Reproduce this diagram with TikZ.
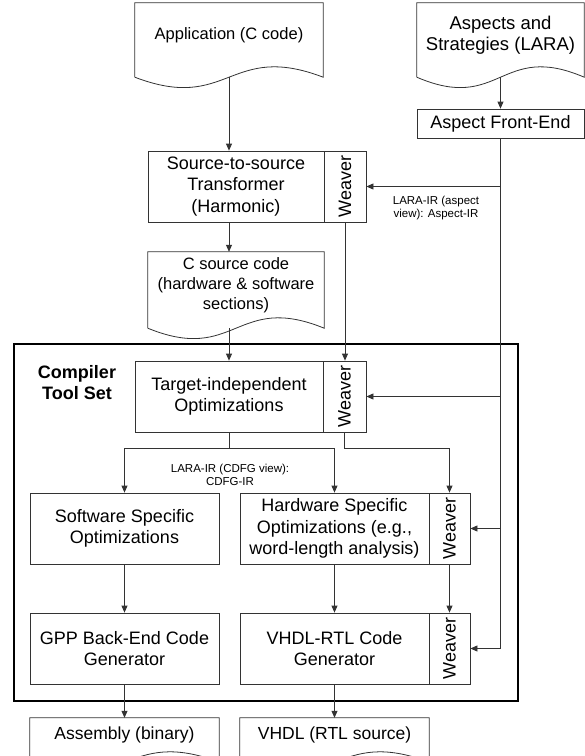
\documentclass[tikz,border=0pt]{standalone}
\usepackage{fontspec}
\setmainfont{Liberation Sans}
\usetikzlibrary{calc,arrows.meta}

% wavy bottom of a document node
\newcommand{\docoutline}[1]{%
  \draw[doc-line] ($(#1.south west)+(0,10)$) -- (#1.north west) -- (#1.north east) -- ($(#1.south east)+(0,10)$)
    .. controls ($(#1.south)+(0,-26)$) and ($(#1.south)+(0,46)$) .. ($(#1.south west)+(0,10)$);
  \coordinate (#1-wave) at ($(#1.south)+(0,10)$);}

\begin{document}
\begin{tikzpicture}[x=1pt, y=-1pt, >={Triangle[length=7pt,width=6pt]}]
        \tikzstyle{doc-file}=[inner sep=0pt, minimum width=188pt, minimum height=64pt, align=center, font=\fontsize{16.5}{20}\selectfont]
        \tikzstyle{doc-line}=[draw=black!80, line width=0.8pt]
        \tikzstyle{tool-box}=[draw=black!80, line width=0.8pt, inner sep=2pt, minimum width=189pt, minimum height=71pt, align=center, font=\fontsize{18}{21.5}\selectfont]
        \tikzstyle{weaver-box}=[tool-box, minimum width=42pt]
        \tikzstyle{tool-frame}=[draw=black, line width=1.6pt, minimum width=504pt, minimum height=357pt]
        \tikzstyle{set-label}=[align=center, font=\fontsize{18}{21}\selectfont\bfseries]
        \tikzstyle{ir-label}=[align=center, inner sep=0pt, font=\fontsize{11.5}{12.8}\selectfont]
        \tikzstyle{flow}=[->, draw=black!80, line width=0.8pt]

        \clip (0,0) rectangle (585,756);

        % inputs
        \node[doc-file] (app) at (229,35) {Application (C code)};
        \docoutline{app}
        \node[doc-file, minimum width=167pt, font=\fontsize{18.5}{21.5}\selectfont] (aspects) at (500.5,35) {Aspects and\\Strategies (LARA)};
        \docoutline{aspects}
        \node[tool-box, minimum width=167pt, minimum height=29pt] (afe) at (500.5,123.5) {Aspect Front-End};

        % source-to-source stage
        \node[tool-box, minimum width=176pt] (s2s) at (236,186.5) {Source-to-source\\Transformer\\(Harmonic)};
        \node[weaver-box] (s2s-weaver) at (345,186.5) {\rotatebox{90}{Weaver}};
        \node[doc-file, minimum width=176pt, minimum height=66pt] (csrc) at (236,285) {C source code\\(hardware \& software\\sections)};
        \docoutline{csrc}

        % compiler tool set
        \node[tool-frame] (tool-set) at (266,522.5) {};
        \node[set-label] (set-label) at (77,383) {Compiler\\Tool Set};
        \node[tool-box, minimum width=188pt] (ti) at (229,396.5) {Target-independent\\Optimizations};
        \node[weaver-box, minimum width=43pt] (ti-weaver) at (344.5,396.5) {\rotatebox{90}{Weaver}};
        \node[tool-box] (sw) at (124.5,528.5) {Software Specific\\Optimizations};
        \node[tool-box] (hw) at (334.5,528.5) {Hardware Specific\\Optimizations (e.g.,\\word-length analysis)};
        \node[weaver-box, minimum width=41pt] (hw-weaver) at (449.5,528.5) {\rotatebox{90}{Weaver}};
        \node[tool-box] (gpp) at (124.5,648.5) {GPP Back-End Code\\Generator};
        \node[tool-box] (rtl) at (334.5,648.5) {VHDL-RTL Code\\Generator};
        \node[weaver-box, minimum width=41pt] (rtl-weaver) at (449.5,648.5) {\rotatebox{90}{Weaver}};

        % outputs
        \node[doc-file, minimum width=189pt, minimum height=34pt, font=\fontsize{17.5}{21}\selectfont] (asm) at (124.5,735) {Assembly (binary)};
        \docoutline{asm}
        \node[doc-file, minimum width=189pt, minimum height=34pt, font=\fontsize{17.5}{21}\selectfont] (vhdl) at (334.5,735) {VHDL (RTL source)};
        \docoutline{vhdl}

        \node[ir-label] (aspect-ir) at (436,208) {LARA-IR (aspect\\view): Aspect-IR};
        \node[ir-label] (cdfg-ir) at (230,474.5) {LARA-IR (CDFG view):\\CDFG-IR};

        \coordinate (spine) at (229,0);
        \draw[flow] (app-wave) -- (app-wave |- s2s.north);
        \draw[flow] (aspects-wave) -- (afe.north);
        \draw[flow] (spine |- s2s.south) -- (spine |- csrc.north);
        \draw[flow] (spine |- csrc-wave) -- (ti.north);
        \draw[flow] (s2s-weaver.south) -- (s2s-weaver.south |- ti-weaver.north);

        \draw[flow] (afe.south) |- (rtl-weaver.east);
        \draw[flow] (afe.south |- s2s-weaver.east) -- (s2s-weaver.east);
        \draw[flow] (afe.south |- ti-weaver.east) -- (ti-weaver.east);
        \draw[flow] (afe.south |- hw-weaver.east) -- (hw-weaver.east);

        \coordinate (split) at ($(ti.south)+(0,16)$);
        \draw[flow] (ti.south) -- (split) -| (sw.north);
        \draw[flow] (split) -| (hw.north);
        \draw[flow] (ti-weaver.south) -- ++(0,16) -| (hw-weaver.north);

        \draw[flow] (sw.south) -- (gpp.north);
        \draw[flow] (hw.south) -- (rtl.north);
        \draw[flow] (hw-weaver.south) -- (rtl-weaver.north);
        \draw[flow] (gpp.south) -- (asm.north);
        \draw[flow] (rtl.south) -- (vhdl.north);
    \end{tikzpicture}
\end{document}
